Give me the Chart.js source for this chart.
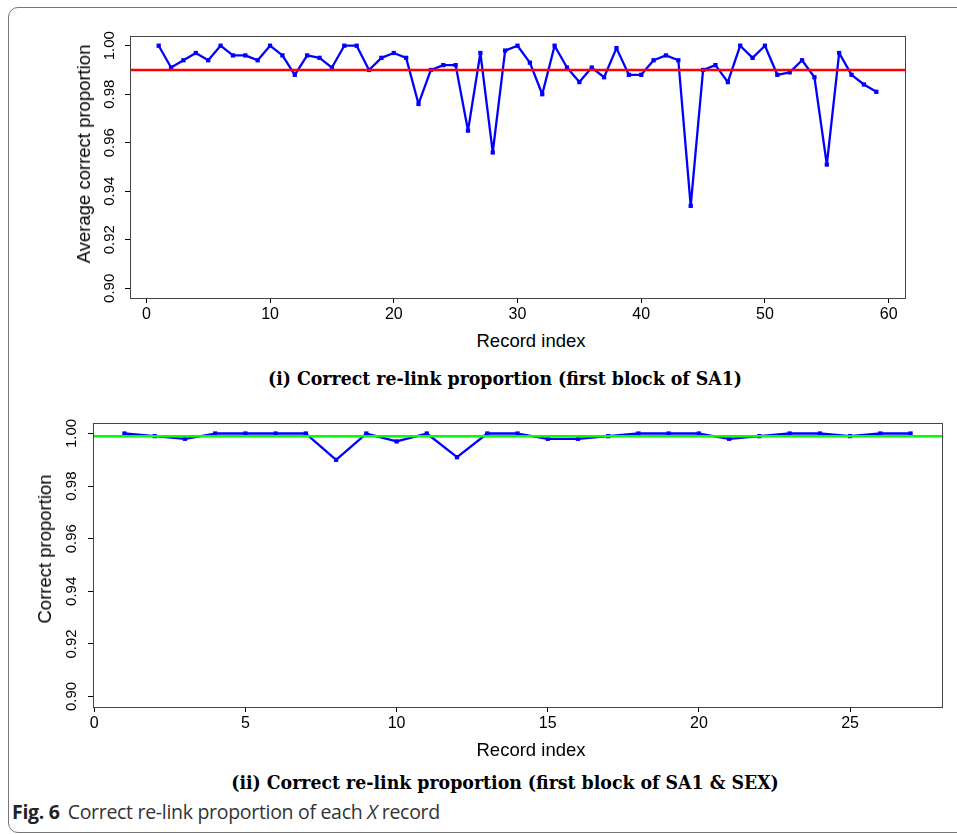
<!DOCTYPE html>
<html>
<head>
<meta charset="utf-8">
<script src="https://cdn.jsdelivr.net/npm/chart.js@4.4.1/dist/chart.umd.min.js"></script>
<style>
  body { margin: 0; background: #fff; width: 957px; height: 834px; overflow: hidden; position: relative; }
  .frame { position: absolute; left: 8px; top: 7px; width: 980px; height: 826px; border: 1px solid #777; border-radius: 10px; box-sizing: border-box; }
  canvas { position: absolute; left: 0; }
  .txt { position: absolute; white-space: nowrap; transform: translate(-50%, -50%); font-family: "Liberation Sans", Arial, sans-serif; font-size: 18.5px; color: #000; }
  .rot { transform: translate(-50%, -50%) rotate(-90deg); }
  .cap { font-family: "DejaVu Serif Condensed", "DejaVu Serif", serif; font-stretch: condensed; font-weight: bold; font-size: 19.3px; }
  .fig { position: absolute; left: 12px; top: 798px; font-family: "Open Sans", sans-serif; font-size: 19.5px; color: #333; white-space: nowrap; letter-spacing: -0.3px; }
  .fig b { font-weight: bold; color: #222; margin-right: 8px; }
</style>
</head>
<body>
<div class="frame"></div>
<canvas id="chartTop" width="957" height="330" style="top:0"></canvas>
<canvas id="chartBottom" width="957" height="340" style="top:400px"></canvas>

<div class="txt rot" style="left:84px; top:154px">Average correct proportion</div>
<div class="txt" style="left:531px; top:341px">Record index</div>
<div class="txt cap" style="left:505px; top:378px">(i) Correct re-link proportion (first block of SA1)</div>

<div class="txt rot" style="left:45px; top:549px">Correct proportion</div>
<div class="txt" style="left:531px; top:750px">Record index</div>
<div class="txt cap" style="left:505px; top:782px">(ii) Correct re-link proportion (first block of SA1 &amp; SEX)</div>

<div class="fig"><b>Fig. 6</b>Correct re-link proportion of each <i>X</i> record</div>

<script>
// ---- dados ----
// (i) primeiro bloco SA1: registos 1..59
const valoresTopo = [
  1.000, 0.991, 0.994, 0.997, 0.994, 1.000, 0.996, 0.996, 0.994, 1.000,
  0.996, 0.988, 0.996, 0.995, 0.991, 1.000, 1.000, 0.990, 0.995, 0.997,
  0.995, 0.976, 0.990, 0.992, 0.992, 0.965, 0.997, 0.956, 0.998, 1.000,
  0.993, 0.980, 1.000, 0.991, 0.985, 0.991, 0.987, 0.999, 0.988, 0.988,
  0.994, 0.996, 0.994, 0.934, 0.990, 0.992, 0.985, 1.000, 0.995, 1.000,
  0.988, 0.989, 0.994, 0.987, 0.951, 0.997, 0.988, 0.984, 0.981
];
const mediaTopo = 0.990;
const ticksXTopo = [0, 10, 20, 30, 40, 50, 60];

// (ii) primeiro bloco SA1 & SEX: registos 1..27
const valoresBaixo = [
  1.000, 0.999, 0.998, 1.000, 1.000, 1.000, 1.000, 0.990, 1.000, 0.997,
  1.000, 0.991, 1.000, 1.000, 0.998, 0.998, 0.999, 1.000, 1.000, 1.000,
  0.998, 0.999, 1.000, 1.000, 0.999, 1.000, 1.000
];
const mediaBaixo = 0.999;
const ticksXBaixo = [0, 5, 10, 15, 20, 25];

const ticksY = [0.90, 0.92, 0.94, 0.96, 0.98, 1.00];

// =========================================
// plugin: caixa à volta do gráfico + etiquetas do eixo y rodadas (estilo R)
// =========================================
const estiloR = {
  id: 'estiloR',
  afterDraw(chart, args, opts) {
    const c = chart.ctx;
    const a = chart.chartArea;
    c.save();
    c.strokeStyle = '#444';
    c.lineWidth = 1;
    c.strokeRect(a.left + 0.5, a.top + 0.5, a.right - a.left, a.bottom - a.top);
    const y = chart.scales.y;
    c.fillStyle = '#000';
    c.font = '15px "Liberation Sans", Arial, sans-serif';
    c.textAlign = 'center';
    c.textBaseline = 'middle';
    y.ticks.forEach(t => {
      c.save();
      c.translate(opts.labelX, y.getPixelForValue(t.value));
      c.rotate(-Math.PI / 2);
      c.fillText(t.value.toFixed(2), 0, 0);
      c.restore();
    });
    c.restore();
  }
};

function criarGrafico(id, valores, media, corMedia, ticksX, xMin, xMax, cfg) {
  const pontos = valores.map((v, i) => ({ x: i + 1, y: v }));
  return new Chart(document.getElementById(id), {
    type: 'line',
    data: {
      datasets: [
        {
          data: [{ x: xMin, y: media }, { x: xMax, y: media }],
          borderColor: corMedia,
          borderWidth: 2.5,
          pointRadius: 0,
          order: 0
        },
        {
          data: pontos,
          borderColor: '#0000ff',
          backgroundColor: '#0000ff',
          borderWidth: 2.3,
          borderJoinStyle: 'round',
          borderCapStyle: 'round',
          pointStyle: 'rect',
          pointRadius: 1.4,
          tension: 0,
          order: 1
        }
      ]
    },
    options: {
      responsive: false,
      animation: false,
      events: [],
      layout: { padding: { left: 0, top: cfg.top, right: cfg.right, bottom: 0 } },
      plugins: { legend: { display: false }, tooltip: { enabled: false }, estiloR: { labelX: cfg.labelX } },
      scales: {
        x: {
          type: 'linear',
          min: xMin,
          max: xMax,
          afterBuildTicks: s => { s.ticks = ticksX.map(v => ({ value: v })); },
          afterFit: s => { s.height = cfg.xHeight; },
          grid: { drawOnChartArea: false, drawTicks: true, tickLength: 5, tickColor: '#000' },
          border: { display: true, color: '#000', width: 1 },
          ticks: {
            padding: 2,
            color: '#000',
            maxRotation: 0,
            font: { family: '"Liberation Sans", Arial, sans-serif', size: 16 },
            callback: v => String(v)
          }
        },
        y: {
          type: 'linear',
          min: 0.896,
          max: 1.004,
          afterBuildTicks: s => { s.ticks = ticksY.map(v => ({ value: v })); },
          afterFit: s => { s.width = cfg.left; },
          grid: { drawOnChartArea: false, drawTicks: true, tickLength: 5, tickColor: '#000' },
          border: { display: true, color: '#000', width: 1 },
          ticks: { display: false }
        }
      }
    },
    plugins: [estiloR]
  });
}

criarGrafico('chartTop', valoresTopo, mediaTopo, '#ff0000', ticksXTopo, -1.32, 61.32,
  { left: 130, top: 36, right: 52, xHeight: 32, labelX: 110 });

criarGrafico('chartBottom', valoresBaixo, mediaBaixo, '#00ff00', ticksXBaixo, -0.04, 28.04,
  { left: 93, top: 23, right: 15, xHeight: 33, labelX: 72 });
</script>
</body>
</html>
